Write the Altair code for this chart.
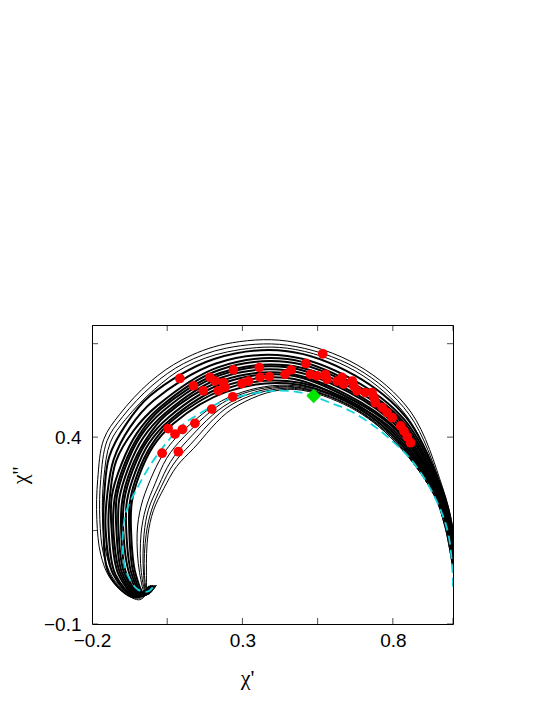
import altair as alt
import pandas as pd

X_DOMAIN = [-0.2, 1.0]
Y_DOMAIN = [-0.1, 0.7]
X_TICKS = [-0.2, 0.05, 0.3, 0.55, 0.8, 1.0]
Y_TICKS = [-0.1, 0.15, 0.4, 0.65, 0.7]
X_LABELS = [-0.2, 0.3, 0.8]
Y_LABELS = [-0.1, 0.4]

# dense band of black curves (right end -> hook tip)
DENSE = {
    "d1": ([1.002, 0.980, 0.938, 0.798, 0.641, 0.449, 0.246, 0.070, 0.002, -0.042, -0.068, -0.070, -0.056, -0.023, 0.004],
           [0.050, 0.162, 0.256, 0.407, 0.498, 0.544, 0.521, 0.436, 0.374, 0.300, 0.224, 0.146, 0.037, -0.022, 0.003]),
    "d2": ([1.002, 0.980, 0.941, 0.802, 0.644, 0.449, 0.243, 0.063, -0.003, -0.048, -0.074, -0.076, -0.062, -0.026, 0.004],
           [0.055, 0.162, 0.257, 0.411, 0.503, 0.550, 0.529, 0.442, 0.378, 0.303, 0.226, 0.147, 0.036, -0.023, 0.003]),
    "d3": ([1.002, 0.983, 0.941, 0.806, 0.643, 0.449, 0.239, 0.059, -0.011, -0.056, -0.084, -0.086, -0.069, -0.029, 0.001],
           [0.060, 0.163, 0.257, 0.415, 0.501, 0.558, 0.536, 0.446, 0.383, 0.307, 0.228, 0.148, 0.036, -0.024, 0.002]),
    "d4": ([1.002, 0.983, 0.944, 0.811, 0.646, 0.449, 0.236, 0.053, -0.018, -0.065, -0.093, -0.096, -0.076, -0.033, 0.001],
           [0.065, 0.163, 0.258, 0.419, 0.508, 0.566, 0.544, 0.452, 0.388, 0.311, 0.231, 0.150, 0.035, -0.024, 0.002]),
    "d5": ([1.002, 0.986, 0.947, 0.813, 0.649, 0.449, 0.232, 0.046, -0.023, -0.071, -0.099, -0.103, -0.086, -0.036, 0.001],
           [0.070, 0.163, 0.259, 0.421, 0.513, 0.571, 0.551, 0.459, 0.391, 0.314, 0.233, 0.151, 0.035, -0.025, 0.002]),
    "d6": ([1.002, 0.986, 0.947, 0.817, 0.652, 0.449, 0.229, 0.042, -0.031, -0.079, -0.109, -0.112, -0.092, -0.039, -0.003],
           [0.075, 0.163, 0.259, 0.426, 0.521, 0.579, 0.559, 0.463, 0.397, 0.318, 0.236, 0.152, 0.034, -0.025, 0.002]),
    "d7": ([1.002, 0.990, 0.950, 0.821, 0.654, 0.449, 0.226, 0.035, -0.039, -0.088, -0.118, -0.119, -0.099, -0.042, -0.003],
           [0.080, 0.164, 0.260, 0.430, 0.526, 0.587, 0.566, 0.469, 0.402, 0.322, 0.238, 0.153, 0.034, -0.026, 0.002]),
    "d8": ([1.002, 0.990, 0.953, 0.826, 0.658, 0.449, 0.223, 0.029, -0.044, -0.094, -0.124, -0.129, -0.105, -0.046, -0.003],
           [0.085, 0.164, 0.261, 0.434, 0.534, 0.592, 0.571, 0.475, 0.405, 0.324, 0.240, 0.154, 0.033, -0.027, 0.002]),
    "d9": ([1.002, 0.990, 0.953, 0.830, 0.661, 0.449, 0.220, 0.025, -0.051, -0.102, -0.134, -0.135, -0.112, -0.049, -0.006],
           [0.090, 0.164, 0.261, 0.438, 0.541, 0.601, 0.579, 0.479, 0.410, 0.328, 0.243, 0.155, 0.033, -0.027, 0.001]),
    "d10": ([1.002, 0.993, 0.956, 0.834, 0.663, 0.449, 0.216, 0.018, -0.062, -0.120, -0.140, -0.145, -0.122, -0.052, -0.006],
            [0.095, 0.164, 0.263, 0.442, 0.546, 0.609, 0.586, 0.485, 0.417, 0.336, 0.245, 0.157, 0.032, -0.028, 0.001]),
    "d11": ([1.002, 0.993, 0.959, 0.839, 0.667, 0.449, 0.212, 0.005, -0.074, -0.128, -0.149, -0.155, -0.129, -0.055, -0.006],
            [0.100, 0.164, 0.264, 0.446, 0.554, 0.617, 0.597, 0.498, 0.426, 0.340, 0.248, 0.158, 0.032, -0.029, 0.001]),
    "d12": ([1.002, 0.996, 0.962, 0.845, 0.672, 0.449, 0.206, -0.008, -0.087, -0.143, -0.159, -0.162, -0.142, -0.059, -0.009],
            [0.105, 0.165, 0.265, 0.452, 0.566, 0.630, 0.609, 0.510, 0.434, 0.347, 0.250, 0.159, 0.031, -0.029, 0.001]),
}

# single thin curves outside and inside the band
THIN = {
    "o1": ([1.002, 0.997, 0.965, 0.860, 0.684, 0.449, 0.243, 0.100, -0.008, -0.108, -0.161, -0.181, -0.184,
            -0.171, -0.141, -0.091, -0.041, -0.008],
           [0.120, 0.166, 0.266, 0.467, 0.592, 0.657, 0.649, 0.607, 0.547, 0.461, 0.394, 0.287, 0.180,
            0.086, 0.024, -0.018, -0.035, -0.008]),
    "o2": ([1.002, 0.993, 0.962, 0.854, 0.680, 0.449, 0.246, 0.105, 0.000, -0.098, -0.150, -0.171, -0.174,
            -0.162, -0.133, -0.086, -0.040, -0.008],
           [0.115, 0.165, 0.265, 0.461, 0.584, 0.646, 0.638, 0.597, 0.538, 0.455, 0.390, 0.287, 0.180,
            0.088, 0.026, -0.015, -0.031, -0.006]),
    "o3": ([1.002, 0.993, 0.959, 0.848, 0.677, 0.449, 0.250, 0.110, 0.008, -0.088, -0.139, -0.161, -0.165,
            -0.153, -0.126, -0.081, -0.038, -0.006],
           [0.110, 0.165, 0.264, 0.454, 0.576, 0.638, 0.628, 0.588, 0.528, 0.448, 0.386, 0.288, 0.182,
            0.090, 0.029, -0.012, -0.028, -0.005]),
    "i1": ([1.002, 0.980, 0.935, 0.796, 0.640, 0.449, 0.253, 0.095, 0.035, -0.007, -0.037, -0.050, -0.042, -0.020, 0.007],
           [0.045, 0.162, 0.255, 0.405, 0.496, 0.539, 0.506, 0.411, 0.352, 0.284, 0.215, 0.143, 0.038, -0.022, 0.003]),
    "i2": ([1.002, 0.977, 0.935, 0.794, 0.639, 0.449, 0.255, 0.106, 0.048, 0.010, -0.021, -0.037, -0.036, -0.017, 0.010],
           [0.040, 0.162, 0.255, 0.403, 0.493, 0.536, 0.501, 0.401, 0.343, 0.276, 0.210, 0.141, 0.038, -0.021, 0.004]),
    "i3": ([1.002, 0.977, 0.932, 0.794, 0.638, 0.449, 0.259, 0.117, 0.061, 0.022, -0.012, -0.027, -0.029, -0.017, 0.010],
           [0.040, 0.162, 0.253, 0.403, 0.491, 0.534, 0.493, 0.391, 0.334, 0.271, 0.207, 0.140, 0.039, -0.021, 0.004]),
    "i4": ([1.002, 0.973, 0.932, 0.791, 0.638, 0.449, 0.262, 0.128, 0.071, 0.030, -0.002, -0.020, -0.026, -0.013, 0.014],
           [0.035, 0.161, 0.253, 0.401, 0.491, 0.531, 0.486, 0.381, 0.328, 0.267, 0.205, 0.139, 0.039, -0.020, 0.004]),
    "i5": ([1.002, 0.973, 0.932, 0.791, 0.637, 0.449, 0.267, 0.138, 0.081, 0.039, 0.004, -0.014, -0.019, -0.013, 0.014],
           [0.035, 0.161, 0.253, 0.401, 0.488, 0.528, 0.476, 0.370, 0.321, 0.263, 0.203, 0.138, 0.039, -0.020, 0.004]),
}

CYAN_X = [1.0, 0.999, 0.981, 0.926, 0.859, 0.792, 0.737, 0.659, 0.592, 0.515, 0.45, 0.38, 0.27, 0.21, 0.16,
          0.103, 0.048, -0.008, -0.052, -0.076, -0.09, -0.097, -0.097, -0.08, -0.047, -0.013, 0.003]
CYAN_Y = [0.0, 0.03, 0.153, 0.26, 0.341, 0.394, 0.43, 0.47, 0.492, 0.515, 0.524, 0.522, 0.505, 0.487, 0.464,
          0.434, 0.385, 0.323, 0.26, 0.222, 0.19, 0.144, 0.081, 0.028, -0.008, -0.013, -0.001]

RED_X = [0.033, 0.087, 0.053, 0.076, 0.101, 0.142, 0.198, 0.092, 0.137, 0.170, 0.192, 0.209, 0.220, 0.237,
         0.242, 0.270, 0.268, 0.298, 0.320, 0.356, 0.359, 0.390, 0.442, 0.462, 0.511, 0.567, 0.526, 0.548,
         0.576, 0.581, 0.615, 0.631, 0.637, 0.665, 0.670, 0.681, 0.709, 0.731, 0.737, 0.742, 0.765, 0.781,
         0.798, 0.826, 0.837, 0.848, 0.859]
RED_Y = [0.357, 0.361, 0.423, 0.408, 0.421, 0.437, 0.475, 0.557, 0.537, 0.524, 0.560, 0.550, 0.524, 0.546,
         0.533, 0.580, 0.508, 0.543, 0.550, 0.586, 0.560, 0.562, 0.568, 0.580, 0.597, 0.623, 0.568, 0.564,
         0.568, 0.555, 0.550, 0.560, 0.542, 0.550, 0.537, 0.524, 0.519, 0.519, 0.506, 0.492, 0.479, 0.466,
         0.452, 0.430, 0.416, 0.401, 0.385]

GREEN_X = [0.537]
GREEN_Y = [0.510]


def curve_frame(curves):
    rows = []
    for name, (xs, ys) in curves.items():
        for i, (x, y) in enumerate(zip(xs, ys)):
            rows.append({"curve": name, "i": i, "x": x, "y": y})
    return pd.DataFrame(rows)


dense_df = curve_frame(DENSE)
thin_df = curve_frame(THIN)
cyan_df = pd.DataFrame({"i": range(len(CYAN_X)), "x": CYAN_X, "y": CYAN_Y})
red_df = pd.DataFrame({"x": RED_X, "y": RED_Y})
green_df = pd.DataFrame({"x": GREEN_X, "y": GREEN_Y})

xscale = alt.Scale(domain=X_DOMAIN, nice=False, zero=False)
yscale = alt.Scale(domain=Y_DOMAIN, nice=False, zero=False)

xaxis = alt.Axis(values=X_LABELS, format=".1f", title="χ'", labelPadding=7, labelFlush=False,
                 titleX=155, titleY=53, titleBaseline="middle", titleAlign="center")
yaxis = alt.Axis(values=Y_LABELS, format=".1f", title="χ''", labelPadding=11, labelFlush=False,
                 titleX=-73, titleY=150, titleAngle=270, titleBaseline="middle", titleAlign="center")

X = alt.X("x:Q", scale=xscale, axis=xaxis)
Y = alt.Y("y:Q", scale=yscale, axis=yaxis)

dense = alt.Chart(dense_df).mark_line(color="black", strokeWidth=2.0, interpolate="catmull-rom", clip=True).encode(
    x=X, y=Y, detail="curve:N", order="i:Q")
thin = alt.Chart(thin_df).mark_line(color="black", strokeWidth=1.0, interpolate="catmull-rom", clip=True).encode(
    x=X, y=Y, detail="curve:N", order="i:Q")
cyan = alt.Chart(cyan_df).mark_line(color="#14d2dc", strokeWidth=1.8, strokeDash=[9, 5],
                                    interpolate="catmull-rom", clip=True).encode(x=X, y=Y, order="i:Q")
red = alt.Chart(red_df).mark_circle(color="#ff0000", size=95, opacity=1).encode(x=X, y=Y)
green = alt.Chart(green_df).mark_point(shape="diamond", filled=True, color="#00e600", size=210, opacity=1).encode(x=X, y=Y)

# inward tick marks on all four sides
tick_bottom = pd.DataFrame({"x": X_TICKS, "y": [Y_DOMAIN[0]] * len(X_TICKS)})
tick_top = pd.DataFrame({"x": X_TICKS, "y": [Y_DOMAIN[1]] * len(X_TICKS)})
tick_left = pd.DataFrame({"x": [X_DOMAIN[0]] * len(Y_TICKS), "y": Y_TICKS})
tick_right = pd.DataFrame({"x": [X_DOMAIN[1]] * len(Y_TICKS), "y": Y_TICKS})
vt = pd.concat([tick_bottom, tick_top])
ht = pd.concat([tick_left, tick_right])
vticks = alt.Chart(vt).mark_tick(orient="vertical", size=12, thickness=1, color="black", clip=True).encode(x=X, y=Y)
hticks = alt.Chart(ht).mark_tick(orient="horizontal", size=12, thickness=1, color="black", clip=True).encode(x=X, y=Y)

chart = alt.layer(thin, dense, cyan, red, green, vticks, hticks).properties(
    width=361, height=299,
    padding={"left": 84, "top": 317, "right": 80, "bottom": 76},
    autosize=alt.AutoSizeParams(type="none"),
).configure_view(stroke="black", strokeWidth=1).configure_axis(
    grid=False, ticks=False, domain=False,
    labelFont="Liberation Sans", labelFontSize=19, labelColor="black",
    titleFont="Liberation Serif", titleFontSize=22, titleFontWeight="normal", titleColor="black",
)

chart.save("out.html", embed_options={"renderer": "svg", "actions": False})
